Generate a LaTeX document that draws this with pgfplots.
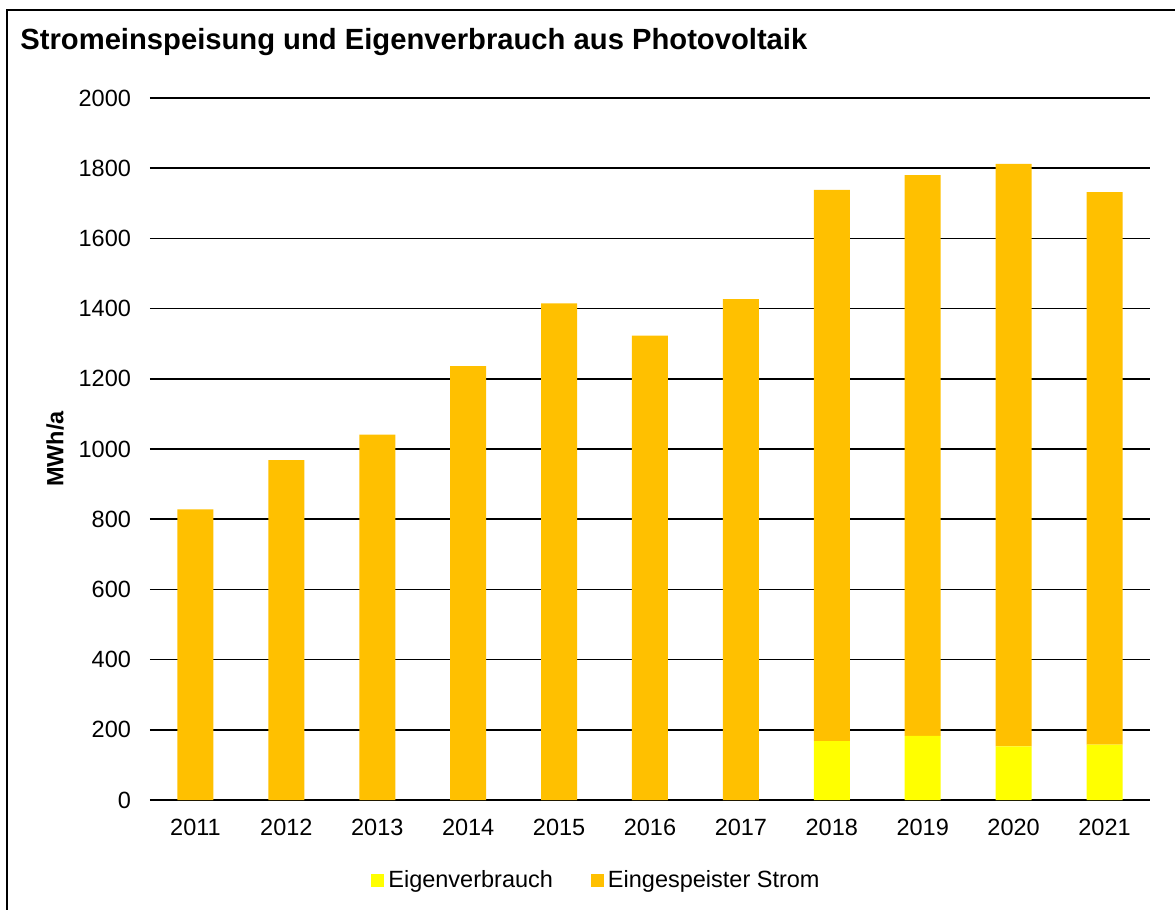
\documentclass[border=0pt]{standalone}
\usepackage{pgfplots}
\pgfplotsset{compat=1.18}
\usepackage{fontspec}
\setmainfont{Liberation Sans}
\definecolor{eigen}{HTML}{FFFF00}
\definecolor{einsp}{HTML}{FFC000}
\begin{document}
\begin{tikzpicture}
\useasboundingbox (0,0) rectangle (587.5pt,-455pt);
\draw[line width=1pt] (3.5pt,-500pt) -- (3.5pt,-5pt) -- (620pt,-5pt);
\node[anchor=base west, inner sep=0pt, font=\fontsize{14.6pt}{17pt}\selectfont\bfseries] at (10pt,-24.5pt) {Stromeinspeisung und Eigenverbrauch aus Photovoltaik};
\begin{axis}[
  at={(75pt,-400pt)}, anchor=south west,
  scale only axis, width=500pt, height=351pt,
  ybar stacked, bar width=18pt,
  xmin=-0.5, xmax=10.5, ymin=0, ymax=2000,
  xtick={0,...,10},
  xticklabels={2011,2012,2013,2014,2015,2016,2017,2018,2019,2020,2021},
  ytick={0,200,...,2000},
  ymajorgrids, grid style={black, line width=0.8pt},
  axis line style={draw=none},
  major tick length=0pt,
  tick label style={font=\fontsize{11.75pt}{14pt}\selectfont},
  /pgf/number format/assume math mode=true,
  /pgf/number format/1000 sep={},
  yticklabel style={xshift=-6pt},
  xticklabel style={yshift=-6pt},
  ylabel={MWh/a},
  every axis y label/.style={at={(axis description cs:-0.095,0.5)}, rotate=90, anchor=center, font=\fontsize{11.75pt}{14pt}\selectfont\bfseries},
  legend style={at={(axis description cs:0.4475,-0.114)}, anchor=center, legend columns=2, draw=none, font=\fontsize{11.75pt}{14pt}\selectfont,
    /tikz/every even column/.append style={column sep=17pt}},
  legend image code/.code={\fill[#1] (0pt,-3.25pt) rectangle (6.5pt,3.25pt);},
]
\addplot[fill=eigen, draw=none] coordinates {(0,0) (1,0) (2,0) (3,0) (4,0) (5,0) (6,0) (7,168) (8,183) (9,153) (10,158)};
\addlegendentry{Eigenverbrauch}
\addplot[fill=einsp, draw=none] coordinates {(0,828) (1,968) (2,1041) (3,1236) (4,1415) (5,1323) (6,1427) (7,1570) (8,1597) (9,1659) (10,1574)};
\addlegendentry{Eingespeister Strom}
\end{axis}
\end{tikzpicture}
\end{document}
